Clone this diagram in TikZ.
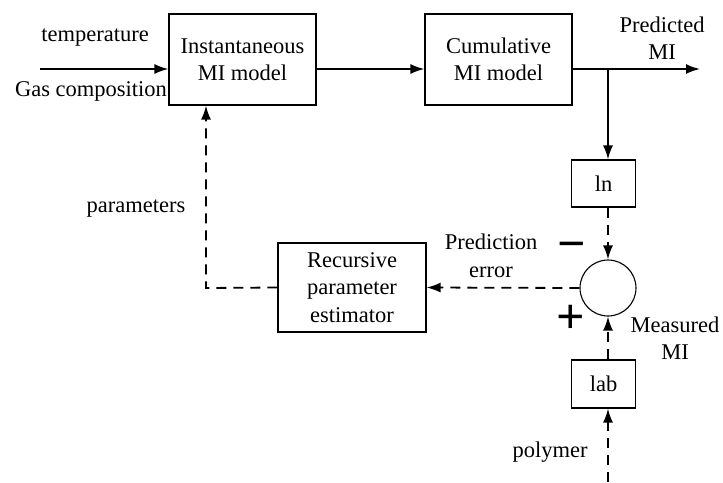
\documentclass[tikz,border=0pt]{standalone}
\usepackage{fontspec}
\setmainfont{Liberation Serif}
\usetikzlibrary{arrows.meta,calc,positioning}

\begin{document}
\begin{tikzpicture}[x=1pt,y=-1pt]
	\tikzstyle{every node} = [font=\fontsize{22.5}{27.5}\selectfont, inner sep=0pt]
	\tikzstyle{blk} = [draw, rectangle, line width=1.1pt, align=center]
	\tikzstyle{sgn} = [font=\fontsize{50}{50}\selectfont\bfseries]
	\tikzstyle{sig} = [line width=1.8pt, -{Latex[length=14pt,width=10pt]}]
	\tikzstyle{meas} = [sig, dash pattern=on 10pt off 7pt]
\useasboundingbox (0,0) rectangle (723,482);
\node[blk, minimum width=147pt, minimum height=91pt] (0) at (242.5,59.5) {Instantaneous\\MI model};
\node[blk, minimum width=147pt, minimum height=91pt] (1) at (498.5,59.5) {Cumulative\\MI model};
\node[blk, minimum width=64pt, minimum height=47pt] (2) at (603.5,183.5) {ln};
\node[draw, circle, line width=1.1pt, minimum size=56pt] (3) at (608,288) {};
\node[blk, minimum width=64pt, minimum height=48pt] (4) at (603.5,384) {lab};
\node[blk, minimum width=148pt, minimum height=89pt] (5) at (352,287.5) {Recursive\\parameter\\estimator};
	\coordinate (in) at (40,69);
	\coordinate (b) at (608,69);
	\coordinate (out) at (700,69);
	\coordinate (p) at (206,288);
	\coordinate (poly) at (608,482);
	\node[align=center] at (95,38) {temperature};
	\node[align=center] at (91,91) {Gas composition};
	\node[align=center] at (662,38) {Predicted\\MI};
	\node[align=center] at (136,209) {parameters};
	\node[align=center] at (491,256) {Prediction\\error};
	\node[align=center] at (675,338) {Measured\\MI};
	\node[align=center] at (550,452) {polymer};
	\node[sgn] at (572,251) {−};
	\node[sgn] at (571,319) {+};

	\draw[sig] (in) -- (in -| 0.west);
	\draw[sig] (0.east |- in) -- (1.west |- in);
	\draw[sig] (1.east |- b) -- (out);
	\draw[sig] (b) -- (b |- 2.north);
	\draw[meas] (2.south -| b) -- (3.north);
	\draw[meas] (4.north -| b) -- (3.south);
	\draw[meas] (poly) -- (poly |- 4.south);
	\draw[meas] (3.west) -- (5.east);
	\draw[meas] (5.west) -- (p) -- (p |- 0.south);
\end{tikzpicture}
\end{document}
